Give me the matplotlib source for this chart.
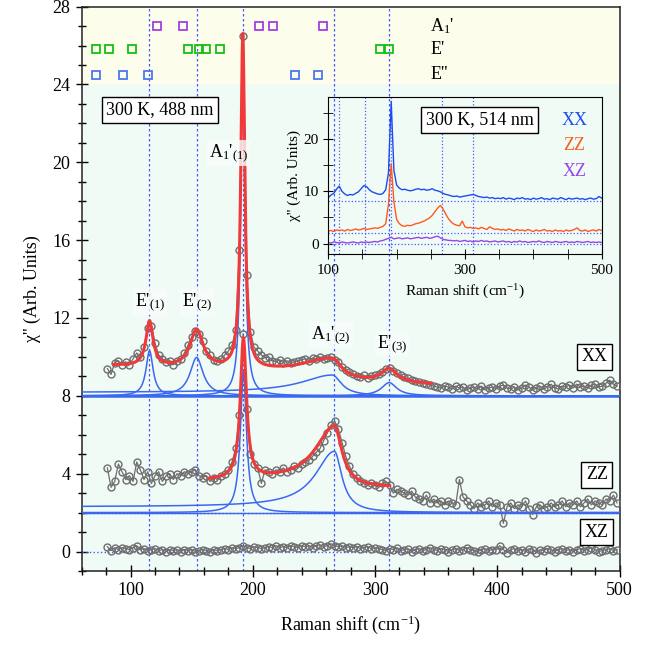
import numpy as np
import matplotlib
matplotlib.use('Agg')
import matplotlib.pyplot as plt
from matplotlib.ticker import MultipleLocator

plt.rcParams['font.family'] = ['Liberation Serif', 'DejaVu Serif']
plt.rcParams['mathtext.fontset'] = 'custom'
plt.rcParams['mathtext.rm'] = 'Liberation Serif'
plt.rcParams['mathtext.it'] = 'Liberation Serif:italic'

# phonon positions (vertical dashed lines)
phonon_lines = [115.3, 154.1, 191.8, 266.7, 311.5]

# calculated mode positions (top band)
a1_modes = [121.6, 142.9, 205.0, 216.5, 257.4]
e1_modes = [71.4, 82.1, 101.4, 146.7, 155.6, 161.7, 173.1, 304.3, 311.3]
e2_modes = [71.4, 93.4, 113.9, 234.4, 253.7]

# main data, 488 nm (x = 81 + 3*i)
xx_data = [9.4, 9.1, 9.7, 9.8, 9.6, 9.75, 9.6, 9.9, 10.2, 10.0,
           10.5, 11.5, 11.6, 10.7, 10.1, 9.9, 9.75, 9.8, 9.6, 9.8,
           9.9, 10.2, 10.6, 11.0, 11.35, 11.2, 10.8, 10.3, 10.1, 9.85,
           9.8, 9.9, 10.1, 10.3, 10.6, 11.4, 15.5, 26.5, 14.2, 11.3,
           10.5, 10.3, 10.1, 9.95, 10.0, 9.8, 9.75, 9.85, 9.7, 9.8,
           9.7, 9.75, 9.8, 9.85, 9.9, 9.8, 9.95, 9.9, 10.0, 9.9,
           9.95, 10.0, 9.85, 9.75, 9.5, 9.35, 9.2, 9.1, 9.0, 8.95,
           9.05, 8.9, 9.0, 9.05, 9.1, 9.25, 9.4, 9.45, 9.3, 9.15,
           9.05, 8.95, 8.9, 8.8, 8.75, 8.7, 8.65, 8.6, 8.55, 8.5,
           8.45, 8.4, 8.5, 8.45, 8.35, 8.5, 8.4, 8.45, 8.3, 8.4,
           8.45, 8.35, 8.5, 8.3, 8.4, 8.45, 8.35, 8.5, 8.55, 8.4,
           8.35, 8.45, 8.3, 8.4, 8.55, 8.45, 8.3, 8.4, 8.5, 8.35,
           8.45, 8.6, 8.4, 8.35, 8.5, 8.45, 8.55, 8.4, 8.6, 8.45,
           8.5, 8.4, 8.55, 8.6, 8.45, 8.5, 8.65, 8.8, 8.6, 8.5]
zz_data = [4.3, 3.3, 3.6, 4.5, 4.1, 3.7, 3.9, 3.6, 4.6, 4.2,
           3.7, 4.1, 3.5, 3.9, 4.1, 3.6, 3.9, 4.0, 3.7, 4.0,
           3.9, 4.1, 4.0, 4.1, 4.2, 3.9, 3.8, 3.9, 3.6, 3.8,
           3.7, 3.9, 4.0, 4.2, 4.6, 5.3, 7.0, 11.2, 7.3, 5.0,
           4.5, 4.3, 3.5, 4.2, 4.1, 4.0, 4.2, 4.1, 4.3, 4.1,
           4.2, 4.4, 4.3, 4.5, 4.6, 4.7, 4.9, 5.1, 5.3, 5.7,
           6.1, 6.5, 6.7, 6.3, 5.6, 4.9, 4.4, 4.0, 3.8, 3.6,
           3.5, 3.4, 3.5, 3.4, 3.3, 3.5, 3.6, 3.4, 3.0, 3.2,
           3.1, 3.0, 2.9, 3.1, 2.8, 2.7, 2.6, 2.9, 2.5, 2.7,
           2.5, 2.6, 2.4, 2.6, 2.5, 2.4, 3.7, 2.8, 2.6, 2.4,
           2.2, 2.5, 2.3, 2.4, 2.6, 2.3, 2.5, 2.4, 1.45, 2.3,
           2.5, 2.2, 2.4, 2.3, 2.6, 2.2, 1.9, 2.3, 2.4, 2.2,
           2.3, 2.5, 2.3, 2.4, 2.6, 2.3, 2.5, 2.4, 2.6, 2.3,
           2.5, 2.7, 2.4, 2.6, 2.5, 2.4, 2.7, 2.6, 2.9, 2.5]
xz_data = [0.25, 0.05, 0.2, 0.1, 0.2, 0.15, 0.1, 0.2, 0.3, 0.1,
           0.15, 0.05, 0.1, 0.15, 0.05, 0.1, 0.0, 0.1, 0.05, 0.1,
           0.0, 0.1, 0.05, 0.1, 0.0, 0.05, 0.1, 0.05, 0.0, 0.1,
           0.05, 0.1, 0.15, 0.1, 0.2, 0.15, 0.2, 0.3, 0.2, 0.15,
           0.25, 0.2, 0.15, 0.2, 0.25, 0.2, 0.3, 0.2, 0.25, 0.2,
           0.3, 0.25, 0.2, 0.3, 0.25, 0.3, 0.2, 0.3, 0.35, 0.25,
           0.3, 0.4, 0.3, 0.25, 0.3, 0.2, 0.25, 0.2, 0.25, 0.15,
           0.2, 0.25, 0.15, 0.2, 0.15, 0.1, 0.05, 0.15, 0.1, 0.2,
           0.05, 0.1, 0.15, 0.0, 0.1, 0.15, 0.05, 0.1, 0.2, 0.1,
           0.05, 0.15, 0.1, 0.0, 0.1, 0.15, 0.05, 0.1, 0.2, 0.1,
           0.05, 0.0, 0.1, 0.15, 0.05, 0.1, 0.1, 0.3, 0.1, -0.05,
           0.1, 0.15, 0.05, 0.1, 0.0, 0.15, 0.1, -0.05, 0.1, 0.05,
           0.15, 0.1, 0.0, 0.1, 0.15, 0.05, 0.1, 0.0, 0.1, 0.15,
           0.05, 0.1, 0.2, 0.1, 0.0, 0.05, 0.1, 0.15, 0.05, 0.1]

# Lorentzian fit components: centre, height, hwhm left, hwhm right, left shoulder
xx_base, xx_bg0, xx_bg1 = 8.0, 1.6, -0.0029
xx_comp = [(115.5, 2.32, 3.5, 3.5, 0.0),
           (154.0, 1.97, 6.5, 6.5, 0.0),
           (191.8, 17.2, 2.0, 2.0, 0.0),
           (265.0, 1.07, 30.0, 9.0, 0.18),
           (311.5, 0.68, 7.5, 7.5, 0.0)]
xx_fit_range = (86, 346)
zz_base, zz_bg0, zz_bg1 = 2.0, 1.3, 0.0
zz_comp = [(192.3, 7.23, 3.0, 3.0, 0.0),
           (266.7, 3.15, 18.5, 7.5, 0.3)]
zz_fit_range = (164, 312)

# inset data, 514 nm (x = 100 + 4*i)
in_xx = [8.8, 9.3, 9.6, 10.4, 11.0, 10.0, 9.5, 9.2, 9.4, 9.3,
         9.6, 9.9, 10.5, 11.1, 10.9, 10.3, 9.9, 9.7, 9.5, 9.4,
         9.6, 10.3, 13.5, 27.2, 14.0, 11.2, 10.6, 10.3, 10.4, 10.2,
         10.1, 10.2, 10.4, 10.5, 10.3, 10.4, 10.2, 10.3, 10.5, 10.2,
         10.1, 9.9, 9.6, 9.4, 9.3, 9.1, 9.0, 9.1, 8.9, 9.0,
         9.1, 9.2, 9.3, 9.4, 9.2, 9.0, 8.9, 8.8, 8.9, 8.7,
         8.8, 8.6, 8.7, 8.6, 8.8, 8.5, 8.7, 8.6, 8.4, 8.7,
         8.6, 8.8, 8.5, 8.6, 8.4, 8.7, 8.5, 8.6, 8.8, 8.5,
         8.6, 8.4, 8.7, 8.6, 8.5, 8.8, 8.6, 8.4, 8.7, 8.5,
         8.6, 8.7, 8.5, 8.6, 8.4, 8.6, 8.7, 8.5, 8.6, 9.0, 8.7]
in_zz = [2.4, 2.5, 2.3, 2.6, 2.5, 2.6, 2.4, 2.7, 2.5, 2.6,
         2.8, 2.6, 2.7, 2.9, 2.7, 2.8, 2.9, 3.0, 2.9, 3.1,
         3.3, 3.8, 7.5, 15.3, 8.0, 4.6, 3.8, 3.4, 3.3, 3.5,
         3.4, 3.6, 3.8, 3.9, 4.1, 4.3, 4.6, 4.9, 5.4, 6.1,
         6.8, 7.3, 6.6, 5.6, 4.7, 4.1, 3.7, 3.5, 3.4, 4.3,
         3.2, 3.0, 3.1, 2.9, 3.0, 2.8, 3.1, 2.9, 2.7, 3.2,
         2.9, 2.7, 2.8, 2.6, 2.7, 2.5, 2.8, 2.6, 2.4, 2.7,
         2.5, 2.6, 2.4, 2.7, 2.5, 2.3, 2.6, 2.4, 2.5, 2.7,
         2.4, 2.5, 2.3, 2.6, 2.4, 2.5, 2.3, 2.6, 2.4, 2.5,
         2.7, 3.0, 2.5, 2.4, 2.6, 2.3, 2.5, 2.6, 2.4, 2.7, 2.5]
in_xz = [0.2, 0.1, 0.3, 0.2, 0.1, 0.3, 0.2, 0.1, 0.2, 0.3,
         0.2, 0.1, 0.3, 0.2, 0.3, 0.2, 0.3, 0.4, 0.3, 0.5,
         0.6, 0.8, 1.0, 1.2, 0.9, 1.0, 1.1, 0.9, 1.0, 1.1,
         0.9, 1.0, 1.1, 1.2, 1.0, 1.1, 1.2, 1.0, 1.1, 1.3,
         1.4, 1.1, 0.8, 0.7, 0.6, 0.6, 0.5, 0.6, 0.4, 0.5,
         0.6, 0.4, 0.5, 0.3, 0.5, 0.4, 0.6, 0.4, 0.5, 0.3,
         0.4, 0.5, 0.3, 0.4, 0.5, 0.3, 0.4, 0.2, 0.4, 0.3,
         0.5, 0.3, 0.4, 0.2, 0.3, 0.4, 0.3, 0.5, 0.3, 0.2,
         0.4, 0.3, 0.2, 0.4, 0.3, 0.2, 0.3, 0.4, 0.2, 0.3,
         0.2, 0.4, 0.3, 0.2, 0.3, 0.4, 0.2, 0.3, 0.2, 0.3, 0.2]
in_base = [8.1, 2.05, 0.0]


def peak(x, c, h, gl, gr, s):
    d = x - c
    left = s + (h - s) * gl**2 / (gl**2 + d**2)
    right = h * gr**2 / (gr**2 + d**2)
    return np.where(x < c, left, right)


def fit(x, comps, base, bg0, bg1):
    y = base + bg0 + bg1 * x
    for p in comps:
        y = y + peak(x, *p)
    return y


fig = plt.figure(figsize=(6.65, 6.52), dpi=100)
ax = fig.add_axes([81.7 / 665, 1 - 571 / 652, 537.8 / 665, 564.4 / 652])
ax.set_facecolor('#f1fbf6')
ax.axhspan(24, 28, color='#fdfdec', zorder=0, lw=0)

gray = '#6e6e6e'
red = '#f03a3a'
blue = '#3a68f0'
dash = '#4658ff'

for c in phonon_lines:
    ax.axvline(c, color=dash, ls=(0, (2, 2)), lw=0.9, zorder=1)

ax.plot(a1_modes, [27.0] * len(a1_modes), 's', ms=6, mfc='none', mec='#a040e0', mew=1.3)
ax.plot(e1_modes, [25.8] * len(e1_modes), 's', ms=6, mfc='none', mec='#14c014', mew=1.3)
ax.plot(e2_modes, [24.5] * len(e2_modes), 's', ms=6, mfc='none', mec='#4a78f0', mew=1.3)
ax.text(345, 27.0, "A$_1$'", fontsize=13, va='center')
ax.text(345, 25.8, "E'", fontsize=13, va='center')
ax.text(345, 24.5, "E''", fontsize=13, va='center')

xg = np.linspace(60, 500, 3000)

# baselines
ax.axhline(xx_base, color=blue, lw=1.8, zorder=2)
ax.axhline(zz_base, color=blue, lw=1.0, zorder=2)
ax.axhline(zz_base, color=dash, lw=1.0, ls=':', zorder=2)
ax.axhline(0, color=dash, lw=1.0, ls=':', zorder=2)

# data
for data in [xx_data, zz_data, xz_data]:
    xd = 81 + 3 * np.arange(len(data))
    ax.plot(xd, data, '-o', color=gray, lw=0.9, ms=5, mfc='none', mec=gray, mew=1.0, zorder=3)

# components
for comp in xx_comp:
    ax.plot(xg, xx_base + peak(xg, *comp), color=blue, lw=1.1, zorder=4)
for comp in zz_comp:
    ax.plot(xg, zz_base + peak(xg, *comp), color=blue, lw=1.1, zorder=4)

# fits
xf = np.linspace(*xx_fit_range, 1500)
ax.plot(xf, fit(xf, xx_comp, xx_base, xx_bg0, xx_bg1), color=red, lw=2.2, zorder=5)
xf = np.linspace(*zz_fit_range, 1000)
ax.plot(xf, fit(xf, zz_comp, zz_base, zz_bg0, zz_bg1), color=red, lw=2.2, zorder=5)

lbl_bg = dict(boxstyle='square,pad=0.1', fc='#f8fdfb', ec='none', alpha=0.8)
ax.text(116, 12.65, "E'$_{(1)}$", fontsize=13, ha='center', va='baseline', bbox=lbl_bg, zorder=6)
ax.text(154.4, 12.65, "E'$_{(2)}$", fontsize=13, ha='center', va='baseline', bbox=lbl_bg, zorder=6)
ax.text(180, 20.3, "A$_1$'$_{(1)}$", fontsize=13, ha='center', va='baseline', bbox=lbl_bg, zorder=6)
ax.text(264, 10.95, "A$_1$'$_{(2)}$", fontsize=13, ha='center', va='baseline', bbox=lbl_bg, zorder=6)
ax.text(314, 10.5, "E'$_{(3)}$", fontsize=13, ha='center', va='baseline', bbox=lbl_bg, zorder=6)

box = dict(boxstyle='square,pad=0.25', fc='white', ec='black', lw=1)
ax.text(124, 22.7, '300 K, 488 nm', fontsize=13, ha='center', va='center', bbox=box, zorder=7)
ax.text(479.6, 10.0, 'XX', fontsize=13, ha='center', va='center', bbox=box, zorder=7)
ax.text(481.5, 3.94, 'ZZ', fontsize=13, ha='center', va='center', bbox=box, zorder=7)
ax.text(481, 0.99, 'XZ', fontsize=13, ha='center', va='center', bbox=box, zorder=7)

ax.set_xlim(60, 500)
ax.set_ylim(-1, 28)
ax.xaxis.set_major_locator(MultipleLocator(100))
ax.xaxis.set_minor_locator(MultipleLocator(20))
ax.yaxis.set_major_locator(MultipleLocator(4))
ax.yaxis.set_minor_locator(MultipleLocator(1))
ax.tick_params(which='both', direction='inout', labelsize=13, top=False, right=False)
ax.tick_params(which='major', length=9, width=1)
ax.tick_params(which='minor', length=6, width=1)
ax.set_xlabel('Raman shift (cm$^{-1}$)', fontsize=13, labelpad=10)
ax.set_ylabel("χ'' (Arb. Units)", fontsize=13, labelpad=8)
for sp in ax.spines.values():
    sp.set_linewidth(1.1)
    sp.set_color('#222222')

# inset
axin = fig.add_axes([328.3 / 665, 1 - 254 / 652, 273.4 / 665, 156.7 / 652])
axin.patch.set_alpha(0)
for c in phonon_lines:
    axin.axvline(c, color=dash, ls=':', lw=0.9)
for b in in_base:
    axin.axhline(b, color=dash, ls=':', lw=0.9)
colors = ['#1a4cf0', '#ff5a1e', '#9646e6']
for data, col in zip([in_xx, in_zz, in_xz], colors):
    xd = 100 + 4 * np.arange(len(data))
    axin.plot(xd, data, color=col, lw=1.0)
for name, col, yy in zip(['XX', 'ZZ', 'XZ'], colors, [0.855, 0.69, 0.525]):
    axin.text(0.90, yy, name, color=col, fontsize=13, ha='center', va='center', transform=axin.transAxes)
axin.text(0.554, 0.857, '300 K, 514 nm', fontsize=13, ha='center', va='center',
          transform=axin.transAxes, bbox=box)
axin.set_xlim(100, 500)
axin.set_ylim(-2, 28)
axin.set_xticks([100, 300, 500])
axin.xaxis.set_minor_locator(MultipleLocator(50))
axin.set_yticks([0, 10, 20])
axin.yaxis.set_minor_locator(MultipleLocator(5))
axin.tick_params(which='both', direction='inout', labelsize=11, top=False, right=False)
axin.tick_params(which='major', length=7)
axin.tick_params(which='minor', length=7)
axin.set_xlabel('Raman shift (cm$^{-1}$)', fontsize=11)
axin.set_ylabel("χ'' (Arb. Units)", fontsize=11, labelpad=2)

fig.savefig('out.png', dpi=100)
